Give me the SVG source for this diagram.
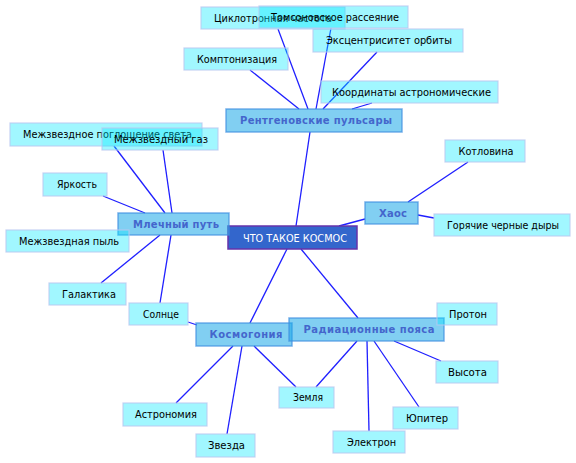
<svg xmlns="http://www.w3.org/2000/svg" width="576" height="463" viewBox="0 0 576 463">
<style>
.c line{stroke:#1f1fff;stroke-width:1.3}
.s rect{fill:#00e8ff;fill-opacity:0.37;stroke:#b8c8f0;stroke-opacity:0.8;stroke-width:1.2}
.s text{font-family:"DejaVu Sans",sans-serif;font-size:10px;fill:#000;text-anchor:middle}
.m rect{fill:#1aa8e8;fill-opacity:0.55;stroke:#3f8fe0;stroke-opacity:0.7;stroke-width:1.5}
.m text{font-family:"DejaVu Sans",sans-serif;font-size:10px;font-weight:bold;fill:#4466cc;text-anchor:middle}
.r rect{fill:#3366cc;stroke:#6633aa;stroke-width:1.5}
.r text{font-family:"DejaVu Sans",sans-serif;font-size:10px;fill:#fff;text-anchor:middle}
</style>
<g id="connectors" class="c">
<line x1="310" y1="132" x2="296" y2="226"/>
<line x1="278" y1="29" x2="308" y2="109"/>
<line x1="331" y1="28" x2="316" y2="109"/>
<line x1="377" y1="52" x2="323" y2="109"/>
<line x1="250" y1="70" x2="299" y2="109"/>
<line x1="372" y1="103" x2="352" y2="109"/>
<line x1="114" y1="146" x2="165" y2="213"/>
<line x1="163" y1="150" x2="172" y2="213"/>
<line x1="103" y1="196" x2="145" y2="213"/>
<line x1="101" y1="283" x2="160" y2="235"/>
<line x1="160" y1="303" x2="171" y2="235"/>
<line x1="188" y1="322" x2="197" y2="325"/>
<line x1="339" y1="226" x2="365" y2="219"/>
<line x1="418" y1="215" x2="434" y2="218"/>
<line x1="468" y1="162" x2="408" y2="202"/>
<line x1="287" y1="249" x2="250" y2="323"/>
<line x1="301" y1="249" x2="358" y2="318"/>
<line x1="176" y1="403" x2="233" y2="346"/>
<line x1="227" y1="434" x2="242" y2="346"/>
<line x1="254" y1="346" x2="296" y2="387"/>
<line x1="357" y1="341" x2="316" y2="387"/>
<line x1="394" y1="341" x2="441" y2="361"/>
<line x1="374" y1="341" x2="419" y2="407"/>
<line x1="367" y1="341" x2="369" y2="431"/>
</g>
<g id="n-root" class="r"><rect x="228" y="226" width="129" height="23"/><text x="295" y="241.5" textLength="104" lengthAdjust="spacingAndGlyphs">ЧТО ТАКОЕ КОСМОС</text></g>
<g id="n-pulsary" class="m"><rect x="226" y="109" width="176" height="23"/><text x="316" y="124" textLength="152" lengthAdjust="spacing">Рентгеновские пульсары</text></g>
<g id="n-mlechny" class="m"><rect x="118" y="213" width="111" height="22"/><text x="176" y="227.5" textLength="86" lengthAdjust="spacing">Млечный путь</text></g>
<g id="n-haos" class="m"><rect x="365" y="202" width="53" height="22"/><text x="393" y="216.5" textLength="28" lengthAdjust="spacing">Хаос</text></g>
<g id="n-kosmogonia" class="m"><rect x="196" y="323" width="96" height="23"/><text x="246" y="338" textLength="73" lengthAdjust="spacing">Космогония</text></g>
<g id="n-radiac" class="m"><rect x="289" y="318" width="155" height="23"/><text x="369" y="333" textLength="131" lengthAdjust="spacing">Радиационные пояса</text></g>
<g id="n-ciklotron" class="s"><rect x="201" y="7" width="144" height="22"/><text x="273" y="21.5" textLength="118" lengthAdjust="spacingAndGlyphs">Циклотронная частота</text></g>
<g id="n-tomson" class="s"><rect x="259" y="6" width="149" height="22"/><text x="335" y="20.5" textLength="128" lengthAdjust="spacingAndGlyphs">Томсоновское рассеяние</text></g>
<g id="n-ekscentr" class="s"><rect x="313" y="29" width="150" height="23"/><text x="389" y="44" textLength="126" lengthAdjust="spacingAndGlyphs">Эксцентриситет орбиты</text></g>
<g id="n-kompton" class="s"><rect x="184" y="48" width="104" height="22"/><text x="237" y="62.5" textLength="80" lengthAdjust="spacingAndGlyphs">Комптонизация</text></g>
<g id="n-koord" class="s"><rect x="321" y="81" width="177" height="22"/><text x="411.5" y="95.5" textLength="159" lengthAdjust="spacingAndGlyphs">Координаты астрономические</text></g>
<g id="n-pogl" class="s"><rect x="10" y="123" width="192" height="23"/><text x="107.5" y="138" textLength="169" lengthAdjust="spacingAndGlyphs">Межзвездное поглощение света</text></g>
<g id="n-gaz" class="s"><rect x="102" y="128" width="116" height="22"/><text x="161" y="142.5" textLength="94" lengthAdjust="spacingAndGlyphs">Межзвездный газ</text></g>
<g id="n-yarkost" class="s"><rect x="43" y="173" width="64" height="23"/><text x="77" y="188" textLength="40" lengthAdjust="spacingAndGlyphs">Яркость</text></g>
<g id="n-pyl" class="s"><rect x="6" y="230" width="123" height="22"/><text x="69" y="244.5" textLength="100" lengthAdjust="spacingAndGlyphs">Межзвездная пыль</text></g>
<g id="n-galaktika" class="s"><rect x="49" y="283" width="77" height="22"/><text x="89" y="297.5" textLength="54" lengthAdjust="spacingAndGlyphs">Галактика</text></g>
<g id="n-solnce" class="s"><rect x="129" y="303" width="59" height="22"/><text x="161" y="317.5" textLength="36" lengthAdjust="spacingAndGlyphs">Солнце</text></g>
<g id="n-kotlovina" class="s"><rect x="445" y="140" width="80" height="22"/><text x="486" y="154.5" textLength="55" lengthAdjust="spacingAndGlyphs">Котловина</text></g>
<g id="n-dyry" class="s"><rect x="434" y="214" width="136" height="22"/><text x="503" y="228.5" textLength="112" lengthAdjust="spacingAndGlyphs">Горячие черные дыры</text></g>
<g id="n-astronomia" class="s"><rect x="123" y="403" width="84" height="23"/><text x="166" y="418" textLength="62" lengthAdjust="spacingAndGlyphs">Астрономия</text></g>
<g id="n-zvezda" class="s"><rect x="196" y="434" width="59" height="23"/><text x="226.5" y="449" textLength="37" lengthAdjust="spacingAndGlyphs">Звезда</text></g>
<g id="n-zemlya" class="s"><rect x="279" y="387" width="55" height="21"/><text x="308" y="401" textLength="30" lengthAdjust="spacingAndGlyphs">Земля</text></g>
<g id="n-proton" class="s"><rect x="437" y="303" width="60" height="22"/><text x="468" y="317.5" textLength="38" lengthAdjust="spacingAndGlyphs">Протон</text></g>
<g id="n-vysota" class="s"><rect x="436" y="361" width="62" height="22"/><text x="467.5" y="375.5" textLength="39" lengthAdjust="spacingAndGlyphs">Высота</text></g>
<g id="n-yupiter" class="s"><rect x="393" y="407" width="65" height="22"/><text x="427" y="421.5" textLength="42" lengthAdjust="spacingAndGlyphs">Юпитер</text></g>
<g id="n-elektron" class="s"><rect x="333" y="431" width="72" height="22"/><text x="371.5" y="445.5" textLength="49" lengthAdjust="spacingAndGlyphs">Электрон</text></g>
</svg>
